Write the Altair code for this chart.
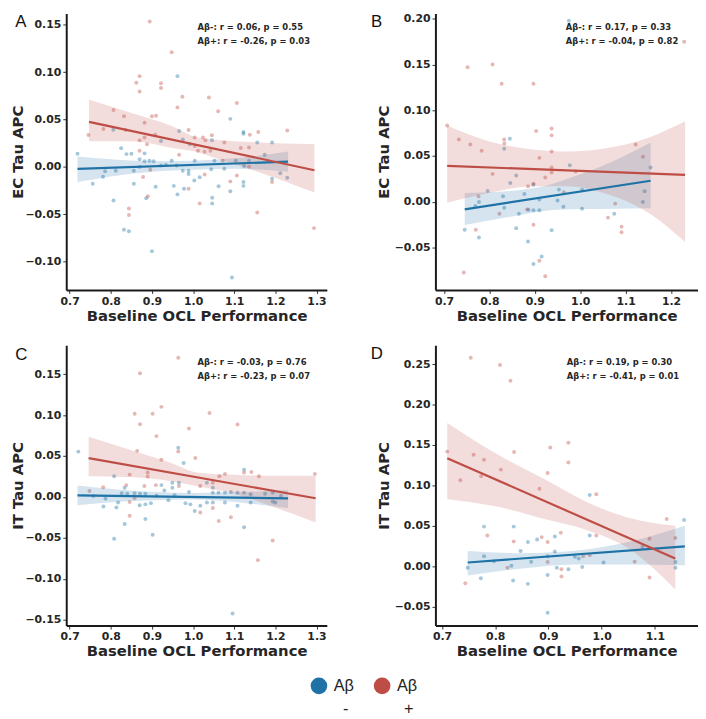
import altair as alt
import pandas as pd

NEG, POS = "Aβ-", "Aβ+"
BLUE, RED = "#1f72a6", "#bd4d45"
FONT = "DejaVu Sans"
X_LABEL = "Baseline OCL Performance"

# ---------------- Panel A : EC Tau APC ----------------
A_NEG = [(0.962, 0.0958), (0.806, 0.0392), (0.966, 0.0378), (0.922, 0.0274), (0.975, 0.029),
         (0.992, 0.024), (0.825, 0.0198), (0.838, 0.0135), (0.882, 0.0143), (0.719, 0.0139),
         (0.850, 0.0139), (0.870, 0.008), (0.882, 0.006), (0.894, 0.0065), (0.904, 0.006),
         (0.948, 0.0066), (1.004, 0.0066), (0.922, 0.0015), (0.934, 0.002), (0.960, 0.0015),
         (0.786, -0.0045), (0.812, -0.004), (0.856, -0.004), (0.870, 0.0), (0.975, -0.004),
         (0.989, -0.004), (0.989, -0.0075), (0.781, -0.0104), (1.003, -0.0143), (0.756, -0.0177),
         (0.856, -0.0177), (0.909, -0.021), (0.953, -0.020), (0.978, -0.023), (0.962, -0.029),
         (0.8065, -0.0354), (0.886, -0.033), (0.832, -0.0663), (0.844, -0.068), (0.900, -0.0889),
         (1.0905, 0.0507), (1.1225, 0.0368), (1.1225, 0.035), (1.046, 0.0281), (1.156, 0.0257),
         (1.192, 0.0257), (1.174, 0.0128), (1.104, 0.0066), (1.136, 0.0066), (1.052, 0.0066),
         (1.124, 0.001), (1.212, -0.0066), (1.229, -0.0115), (1.016, -0.011), (1.044, -0.0025),
         (1.076, -0.002), (1.192, -0.0125), (1.1225, -0.016), (1.1225, -0.020), (1.062, -0.0205),
         (1.0905, -0.0257), (1.0465, -0.0326), (1.0465, -0.0385), (1.0945, -0.1167)]
A_POS = [(0.8945, 0.1534), (0.948, 0.121), (0.870, 0.0958), (0.862, 0.0889), (0.922, 0.0882),
         (0.922, 0.0833), (0.870, 0.0795), (0.974, 0.074), (0.962, 0.0628), (0.8065, 0.060),
         (0.900, 0.0535), (0.910, 0.054), (0.832, 0.0535), (0.882, 0.0465), (0.7457, 0.0337),
         (0.782, 0.040), (0.836, 0.039), (0.870, 0.028), (0.882, 0.031), (0.888, 0.024),
         (0.908, 0.034), (0.989, 0.039), (1.004, 0.031), (1.004, 0.022), (0.870, 0.017),
         (0.966, 0.0128), (0.896, -0.003), (0.8785, -0.0107), (0.989, -0.023), (0.890, -0.031),
         (1.016, -0.0385), (0.844, -0.0438), (0.844, -0.0507), (1.0385, 0.0733), (1.1065, 0.0674),
         (1.061, 0.0587), (1.138, 0.034), (1.1585, 0.0368), (1.229, 0.0385), (1.0457, 0.0333),
         (1.030, 0.0281), (1.024, 0.031), (1.076, 0.0257), (1.136, 0.0205), (1.116, 0.020),
         (1.012, 0.017), (1.028, 0.016), (1.042, 0.017), (1.072, 0.0066), (1.136, 0.0003),
         (1.028, -0.008), (1.1065, -0.009), (1.192, -0.016), (1.0905, -0.0153), (1.156, -0.0482),
         (1.294, -0.0646)]
A_NEG_LINE = [(0.719, -0.0021), (1.231, 0.0055)]
A_POS_LINE = [(0.747, 0.0475), (1.295, -0.0035)]
A_NEG_BAND = [(0.719, -0.016, 0.011), (0.80, -0.010, 0.008), (0.90, -0.005, 0.006),
              (1.00, -0.003, 0.0065), (1.10, -0.002, 0.009), (1.231, -0.005, 0.0163)]
A_POS_BAND = [(0.747, 0.027, 0.071), (0.85, 0.027, 0.057), (0.95, 0.020, 0.043),
              (1.01, 0.0156, 0.031), (1.05, 0.010, 0.029), (1.15, -0.004, 0.026), (1.295, -0.027, 0.024)]

# ---------------- Panel B : EC Tau APC ----------------
B_NEG = [(0.975, 0.1978), (0.845, 0.069), (0.8326, 0.058), (0.977, 0.040), (1.155, 0.0374),
         (0.859, 0.0288), (0.846, 0.0205), (0.897, 0.0187), (0.796, 0.0119), (0.953, 0.0133),
         (1.004, 0.0133), (1.142, 0.0115), (0.830, 0.006), (0.877, 0.0086), (0.910, 0.0025),
         (0.950, 0.0014), (0.777, -0.0003), (1.138, -0.0003), (0.769, -0.0047), (0.8326, -0.0065),
         (0.963, -0.0054), (1.004, -0.0076), (0.886, -0.0088), (0.897, -0.0093), (0.910, -0.0093),
         (0.865, -0.013), (1.075, -0.013), (0.7456, -0.0306), (0.859, -0.0288), (0.937, -0.031),
         (0.777, -0.039), (0.885, -0.0435), (0.915, -0.0597), (0.897, -0.068)]
B_POS = [(0.752, 0.147), (0.807, 0.150), (0.827, 0.129), (0.897, 0.129), (1.229, 0.175),
         (0.707, 0.0834), (0.903, 0.0773), (0.937, 0.080), (0.937, 0.0726), (0.7326, 0.068),
         (0.8326, 0.068), (0.833, 0.0636), (0.758, 0.0626), (1.122, 0.0626), (0.783, 0.0558),
         (0.937, 0.055), (1.138, 0.0493), (0.910, 0.048), (0.937, 0.0374), (0.990, 0.033),
         (0.937, 0.032), (0.807, 0.0305), (0.923, 0.0266), (0.897, 0.0198), (0.885, 0.017),
         (0.964, 0.0105), (0.776, 0.006), (1.077, -0.002), (0.883, -0.0083), (0.822, -0.013),
         (1.061, -0.0173), (0.897, -0.0252), (1.091, -0.0273), (1.091, -0.0334), (0.770, -0.0306),
         (0.910, -0.0644), (0.7435, -0.0773), (0.923, -0.0813)]
B_NEG_LINE = [(0.7457, -0.0083), (1.155, 0.023)]
B_POS_LINE = [(0.707, 0.0392), (1.231, 0.0295)]
B_NEG_BAND = [(0.7457, -0.0255, 0.0097), (0.85, -0.016, 0.012), (0.92, -0.010, 0.017),
              (1.00, -0.008, 0.030), (1.08, -0.0075, 0.046), (1.155, -0.0072, 0.0647)]
B_POS_BAND = [(0.707, -0.001, 0.0834), (0.80, 0.010, 0.066), (0.90, 0.017, 0.057),
              (0.97, 0.017, 0.055), (1.05, 0.010, 0.058), (1.15, -0.012, 0.070), (1.231, -0.044, 0.088)]

# ---------------- Panel C : IT Tau APC ----------------
C_NEG = [(0.721, 0.0554), (0.964, 0.060), (0.977, 0.0414), (0.808, 0.0253), (0.923, 0.0145),
         (0.9496, 0.0173), (0.9656, 0.0173), (0.9496, 0.0113), (0.8337, 0.0113), (0.7576, 0.0012),
         (0.787, -0.002), (0.8265, 0.0045), (0.840, 0.004), (0.8577, 0.0045), (0.871, 0.004),
         (0.884, 0.004), (0.8176, -0.0068), (0.884, -0.009), (0.8975, -0.0075), (0.911, 0.0015),
         (0.782, -0.0116), (0.8135, -0.0128), (0.884, -0.0269), (0.9815, -0.0075), (0.9935, -0.009),
         (1.004, -0.017), (0.8337, -0.0329), (0.808, -0.051), (0.9016, -0.0461), (0.930, 0.008),
         (0.955, 0.002), (0.940, -0.004), (0.990, 0.006), (0.870, -0.010),
         (1.124, 0.0334), (1.0336, 0.0173), (1.048, 0.0113), (1.048, 0.0053), (1.0617, 0.0053),
         (1.0775, 0.0053), (1.092, 0.006), (1.108, 0.0053), (1.124, 0.0053), (1.140, 0.0033),
         (1.175, 0.004), (1.1936, 0.0053), (1.2136, 0.0013), (1.0336, -0.0068), (1.048, -0.0068),
         (1.0175, -0.0108), (1.0775, -0.0068), (1.14, -0.0068), (1.1936, -0.0055), (1.2, -0.0068),
         (1.108, -0.0108), (1.124, -0.0369), (1.096, -0.1422)]
C_POS = [(0.964, 0.170), (0.871, 0.151), (0.858, 0.1017), (0.9016, 0.1017), (0.923, 0.110),
         (0.871, 0.0888), (0.990, 0.0836), (0.911, 0.0743), (0.964, 0.0555), (0.864, 0.0563),
         (0.923, 0.0454), (1.0055, 0.0475), (0.8457, 0.0273), (0.8896, 0.030), (0.8896, 0.025),
         (0.7816, 0.012), (0.8375, 0.0145), (0.8816, 0.0133), (0.9096, 0.0145), (0.9656, 0.0133),
         (0.748, 0.0072), (0.8457, -0.006), (0.8577, -0.0015), (0.8457, -0.0229), (1.0175, -0.019),
         (1.040, 0.1024), (1.108, 0.0884), (1.124, 0.030), (1.1416, 0.0306), (1.160, 0.0253),
         (1.296, 0.0282), (1.064, 0.0253), (1.0775, 0.0282), (1.048, 0.0173), (1.0175, 0.0133),
         (1.048, -0.0135), (1.0624, -0.0293), (1.092, -0.0248), (1.1936, -0.053), (1.1576, -0.0771)]
C_NEG_LINE = [(0.719, 0.002), (1.231, -0.0016)]
C_POS_LINE = [(0.746, 0.0475), (1.298, -0.0016)]
C_NEG_BAND = [(0.719, -0.010, 0.0141), (0.85, -0.005, 0.008), (1.00, -0.003, 0.005),
              (1.12, -0.007, 0.006), (1.231, -0.0136, 0.0084)]
C_POS_BAND = [(0.746, 0.0253, 0.0735), (0.85, 0.024, 0.057), (0.95, 0.019, 0.041),
              (1.01, 0.013, 0.030), (1.10, 0.004, 0.027), (1.20, -0.013, 0.026), (1.298, -0.031, 0.026)]

# ---------------- Panel D : IT Tau APC ----------------
D_NEG = [(0.9776, 0.088), (1.155, 0.0571), (0.779, 0.0489), (0.8347, 0.0489), (0.8614, 0.0298),
         (0.8787, 0.033), (0.912, 0.0367), (0.9776, 0.0379), (0.8477, 0.0188), (0.912, 0.018),
         (0.779, 0.0122), (0.8985, 0.0122), (0.8675, 0.0053), (0.8304, 0.0005), (0.7976, 0.006),
         (0.9497, 0.0115), (0.957, 0.0094), (1.0035, 0.0045), (1.0766, 0.0237), (1.1388, 0.005),
         (1.1388, -0.002), (0.7482, -0.002), (0.9158, -0.002), (0.9375, -0.004), (0.9635, -0.001),
         (0.773, -0.015), (0.8336, -0.0179), (0.8614, -0.022), (0.8985, -0.011), (0.8985, -0.0578)]
D_POS = [(0.754, 0.258), (0.809, 0.249), (0.8286, 0.2295), (0.7098, 0.1418), (0.7594, 0.1378),
         (0.779, 0.1317), (0.8354, 0.1414), (0.9034, 0.147), (0.9375, 0.1528), (0.9375, 0.1284),
         (0.7345, 0.1064), (0.7735, 0.1113), (0.8106, 0.1195), (0.8985, 0.1154), (0.883, 0.0958),
         (0.990, 0.0889), (1.1223, 0.0583), (0.7853, 0.0379), (0.8347, 0.0306), (0.8874, 0.0359),
         (0.8985, 0.0298), (0.9232, 0.0412), (0.990, 0.0379), (1.090, 0.0339), (1.1384, 0.0347),
         (0.8985, 0.005), (0.9653, 0.0122), (0.9776, 0.0135), (1.062, 0.0053), (0.823, -0.002),
         (0.9245, -0.004), (0.9245, -0.013), (0.7438, -0.0212), (1.090, -0.0142)]
D_NEG_LINE = [(0.7482, 0.0045), (1.1564, 0.0245)]
D_POS_LINE = [(0.7098, 0.1337), (1.1384, 0.0094)]
D_NEG_BAND = [(0.7482, -0.0117, 0.0188), (0.85, -0.003, 0.016), (0.95, 0.002, 0.019),
              (1.05, 0.002, 0.030), (1.1564, 0.0012, 0.050)]
D_POS_BAND = [(0.7098, 0.0828, 0.1773), (0.80, 0.074, 0.140), (0.90, 0.057, 0.105),
              (0.97, 0.045, 0.080), (1.05, 0.022, 0.060), (1.1384, -0.029, 0.050)]

STATS_A = ["Aβ-: r = 0.06, p = 0.55", "Aβ+: r = -0.26, p = 0.03"]
STATS_B = ["Aβ-: r = 0.17, p = 0.33", "Aβ+: r = -0.04, p = 0.82"]
STATS_C = ["Aβ-: r = -0.03, p = 0.76", "Aβ+: r = -0.23, p = 0.07"]
STATS_D = ["Aβ-: r = 0.19, p = 0.30", "Aβ+: r = -0.41, p = 0.01"]

X_TICKS_AC = [0.7, 0.8, 0.9, 1.0, 1.1, 1.2, 1.3]
X_TICKS_B = [0.7, 0.8, 0.9, 1.0, 1.1, 1.2]
X_TICKS_D = [0.7, 0.8, 0.9, 1.0, 1.1]
Y_TICKS_A = [-0.10, -0.05, 0.0, 0.05, 0.10, 0.15]
Y_TICKS_B = [-0.05, 0.0, 0.05, 0.10, 0.15, 0.20]
Y_TICKS_C = [-0.15, -0.10, -0.05, 0.0, 0.05, 0.10, 0.15]
Y_TICKS_D = [-0.05, 0.0, 0.05, 0.10, 0.15, 0.20, 0.25]

LEGEND_GROUPS = [NEG, NEG, POS, POS]
LEGEND_ROWS = ["main", "sub", "main", "sub"]
LEGEND_TEXT = ["Aβ", "-", "Aβ", "+"]


def pts_frame(neg, pos):
    return pd.DataFrame([{"x": x, "y": y, "grp": NEG} for x, y in neg] +
                        [{"x": x, "y": y, "grp": POS} for x, y in pos])


def band_frame(band, grp):
    return pd.DataFrame([{"x": x, "lo": lo, "hi": hi, "grp": grp} for x, lo, hi in band])


def panel(letter, ylab, stats, neg, pos, neg_line, pos_line, neg_band, pos_band,
          xdom, ydom, xticks, yticks, w, h, ann_x, ann_y, let_x, let_y, tpad):
    xs = alt.Scale(domain=xdom, nice=False, zero=False)
    ys = alt.Scale(domain=ydom, nice=False, zero=False)
    xax = alt.Axis(values=xticks, format=".1f", labelFlush=False, labelOverlap=False,
                   titlePadding=2)
    yax = alt.Axis(values=yticks, format=".2f", labelFlush=False, labelOverlap=False,
                   titlePadding=tpad)
    X = alt.X("x:Q", scale=xs, axis=xax, title=X_LABEL)
    col = alt.Color("grp:N", scale=alt.Scale(domain=[NEG, POS], range=[BLUE, RED]), legend=None)

    points = alt.Chart(pts_frame(neg, pos)).mark_circle(size=16, opacity=0.4).encode(
        x=X, y=alt.Y("y:Q", scale=ys, axis=yax, title=ylab), color=col)

    def band(df):
        return alt.Chart(df).mark_area(opacity=0.19, interpolate="monotone").encode(
            x=X, y=alt.Y("lo:Q", scale=ys, axis=yax, title=ylab, stack=None),
            y2="hi:Q", color=col)

    lines = alt.Chart(pts_frame(neg_line, pos_line)).mark_line(strokeWidth=2.2).encode(
        x=X, y=alt.Y("y:Q", scale=ys, axis=yax, title=ylab), color=col, detail="grp:N")

    ann = alt.Chart(pd.DataFrame({"t": ["\n".join(stats)]})).mark_text(
        align="left", baseline="top", font=FONT, fontSize=8.5, fontWeight="bold",
        color="#262626", lineBreak="\n", lineHeight=13.5).encode(
        text="t:N", x=alt.value(ann_x), y=alt.value(ann_y))

    let = alt.Chart(pd.DataFrame({"t": [letter]})).mark_text(
        align="center", baseline="middle", font="Liberation Sans", fontSize=17,
        color="#111111").encode(text="t:N", x=alt.value(let_x), y=alt.value(let_y))

    return alt.layer(points, band(band_frame(neg_band, NEG)), band(band_frame(pos_band, POS)),
                     lines, ann, let).properties(width=w, height=h)


pA = panel("A", "EC Tau APC", STATS_A, A_NEG, A_POS, A_NEG_LINE, A_POS_LINE, A_NEG_BAND, A_POS_BAND,
           [0.6916, 1.3252], [-0.1299, 0.1618], X_TICKS_AC, Y_TICKS_A, 264, 280,
           133, 10, -46, 9, -1)
pB = panel("B", "EC Tau APC", STATS_B, B_NEG, B_POS, B_NEG_LINE, B_POS_LINE, B_NEG_BAND, B_POS_BAND,
           [0.6811, 1.2594], [-0.0964, 0.2057], X_TICKS_B, Y_TICKS_B, 266, 280,
           132, 10, -59.5, 9, 2.6)
pC = panel("C", "IT Tau APC", STATS_C, C_NEG, C_POS, C_NEG_LINE, C_POS_LINE, C_NEG_BAND, C_POS_BAND,
           [0.6916, 1.3252], [-0.157, 0.1852], X_TICKS_AC, Y_TICKS_C, 264, 284,
           133, 13.2, -45.5, 10, -1)
pD = panel("D", "IT Tau APC", STATS_D, D_NEG, D_POS, D_NEG_LINE, D_POS_LINE, D_NEG_BAND, D_POS_BAND,
           [0.6876, 1.1811], [-0.0737, 0.2735], X_TICKS_D, Y_TICKS_D, 266, 284,
           133, 13.2, -59.5, 8.5, 2.6)

leg_df = pd.DataFrame({"grp": LEGEND_GROUPS, "row": LEGEND_ROWS, "t": LEGEND_TEXT})
leg_x = alt.X("grp:N", scale=alt.Scale(domain=[NEG, POS], range=[256, 320], padding=0), axis=None)
leg_y = alt.Y("row:N", scale=alt.Scale(domain=["main", "sub"], range=[5, 29], padding=0), axis=None)
leg_col = alt.Color("grp:N", scale=alt.Scale(domain=[NEG, POS], range=[BLUE, RED]), legend=None)
leg_base = alt.Chart(leg_df).encode(x=leg_x, y=leg_y)
leg_dots = leg_base.transform_filter(alt.datum.row == "main").mark_circle(size=285, opacity=1).encode(color=leg_col)
leg_lab = leg_base.transform_filter(alt.datum.row == "main").mark_text(
    align="left", baseline="middle", dx=15, font="Liberation Sans", fontSize=16.5, color="#222222").encode(text="t:N")
leg_sign = leg_base.transform_filter(alt.datum.row == "sub").mark_text(
    align="center", baseline="middle", dx=27, font="Liberation Sans", fontSize=16.5, color="#222222").encode(text="t:N")
legend = alt.layer(leg_dots, leg_lab, leg_sign).properties(width=264, height=24)

chart = alt.concat(pA, pB, pC, pD, legend, columns=2, spacing={"row": 56, "column": 110},
                   bounds="flush").configure_axis(
    domainColor="#1a1a1a", domainWidth=2, tickColor="#333333", tickSize=3.5, tickWidth=1,
    labelFont=FONT, labelFontSize=11, labelFontWeight="bold", labelColor="#262626", labelPadding=2,
    titleFont=FONT, titleFontSize=15, titleFontWeight="bold", titleColor="#262626", grid=False
).configure_view(stroke=None).properties(
    background="white", padding={"left": 3, "top": 0, "right": 0, "bottom": 0})

chart.save("out.html", embed_options={"renderer": "svg", "actions": False})
